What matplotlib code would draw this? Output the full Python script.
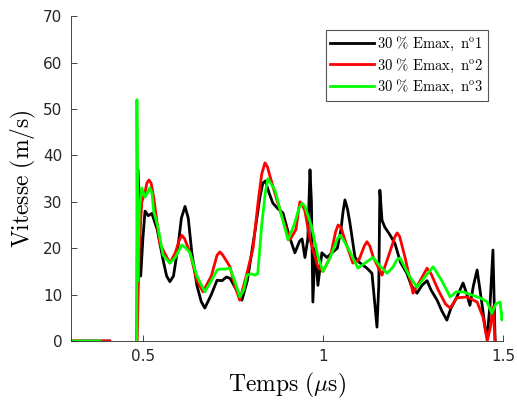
"""Vitesse vs temps, trois essais a 30 % Emax."""
import numpy as np
import matplotlib
matplotlib.use("Agg")
import matplotlib.pyplot as plt

plt.rcParams["mathtext.fontset"] = "cm"

nan = np.nan

# essai n°1 (noir)
t1 = [0.30, 0.408, nan, 0.483, 0.486, 0.490, 0.494, 0.500, 0.506, 0.515, 0.525,
      0.540, 0.556, 0.566, 0.575, 0.585, 0.597, 0.607, 0.617, 0.626, 0.636,
      0.650, 0.662, 0.672, 0.690, 0.706, 0.720, 0.732, 0.742, 0.760, 0.775,
      0.790, 0.810, 0.825, 0.833, 0.840, 0.850, 0.861, 0.875, 0.889, 0.905,
      0.922, 0.935, 0.942, 0.950, 0.958, 0.964, 0.968, 0.972, 0.978, 0.986,
      0.997, 1.011, 1.025, 1.040, 1.050, 1.056, 1.061, 1.068, 1.075, 1.089,
      1.100, 1.122, 1.136, 1.144, 1.150, 1.155, 1.158, 1.164, 1.172, 1.185,
      1.200, 1.215, 1.233, 1.245, 1.261, 1.275, 1.289, 1.300, 1.317, 1.330,
      1.344, 1.355, 1.372, 1.389, 1.400, 1.408, 1.418, 1.428, 1.436, 1.442,
      1.450, 1.456, 1.464, 1.472, 1.478]
v1 = [0, 0, nan, 0, 37, 30, 14, 22, 28, 27, 27.5,
      24, 17.5, 14, 12.8, 14, 20, 26.5, 29, 26.5, 19,
      12, 8.5, 7.1, 10, 13.1, 13, 13.8, 13.5, 11, 8.8,
      13, 23, 31, 34, 34.5, 32, 29.7, 28.5, 27.6, 23,
      19, 21.5, 22, 18, 22, 36.9, 30, 8.4, 20, 12,
      19, 18, 19, 20, 24, 28, 30.4, 28.5, 25.4, 18,
      17, 15.7, 14.6, 8, 3, 12, 32.5, 26, 24.5, 23,
      21, 17, 14.6, 12, 10.3, 12, 13, 11, 8.8, 6.5,
      4.5, 7, 9.5, 12.5, 10, 7.7, 12, 15.3, 11, 7.7,
      3, 1, 8, 19.6, 0]

# essai n°2 (rouge)
t2 = [0.30, 0.408, nan, 0.484, 0.490, 0.497, 0.506, 0.511, 0.517, 0.523, 0.530,
      0.547, 0.560, 0.575, 0.590, 0.600, 0.608, 0.616, 0.631, 0.650, 0.667,
      0.690, 0.706, 0.714, 0.722, 0.742, 0.755, 0.769, 0.789, 0.806, 0.820,
      0.830, 0.839, 0.846, 0.853, 0.872, 0.890, 0.908, 0.925, 0.932, 0.936,
      0.942, 0.950, 0.964, 0.986, 1.000, 1.020, 1.035, 1.042, 1.050, 1.060,
      1.083, 1.100, 1.115, 1.122, 1.130, 1.140, 1.164, 1.185, 1.200, 1.206,
      1.213, 1.228, 1.250, 1.270, 1.289, 1.300, 1.320, 1.340, 1.353, 1.372,
      1.400, 1.428, 1.445, 1.456, 1.465, 1.472, 1.478]
v2 = [0, 0, nan, 0, 20, 30, 32, 34, 34.7, 34, 31,
      21, 19, 16.8, 19, 21.5, 22.8, 22, 19, 13, 10.6,
      14, 18.5, 19.2, 18.5, 16, 12, 8.8, 14.6, 20, 30,
      36, 38.4, 37.5, 35.5, 30.4, 26, 21.8, 24, 28, 30,
      29.5, 28, 21.8, 16, 15, 18, 23.5, 25, 24.5, 22,
      16.8, 17.5, 20.5, 21.4, 20.5, 18, 14.2, 19, 22.5, 23.3,
      22.5, 18, 10.3, 13, 15.7, 14.5, 11, 8, 7.1, 9.3,
      9.5, 8.4, 5, 0, 3, 7.3, 0]

# essai n°3 (vert)
t3 = [0.30, 0.381, nan, 0.483, 0.4835, 0.486, 0.490, 0.497, 0.506, 0.513, 0.519,
      0.525, 0.530, 0.542, 0.556, 0.575, 0.590, 0.608, 0.620, 0.631, 0.650,
      0.672, 0.690, 0.706, 0.714, 0.728, 0.742, 0.755, 0.769, 0.780, 0.789,
      0.800, 0.811, 0.819, 0.830, 0.840, 0.847, 0.855, 0.867, 0.885, 0.903,
      0.920, 0.933, 0.942, 0.950, 0.969, 0.985, 1.000, 1.020, 1.040, 1.047,
      1.055, 1.070, 1.097, 1.120, 1.139, 1.160, 1.178, 1.195, 1.205, 1.214,
      1.240, 1.261, 1.285, 1.306, 1.330, 1.353, 1.370, 1.389, 1.410, 1.436,
      1.455, 1.469, 1.480, 1.492, 1.497, 1.500]
v3 = [0, 0, nan, 0, 52, 13, 28, 33, 31, 32, 33,
      32, 28, 24.5, 18.5, 16.8, 18, 20.7, 20, 19, 14,
      10.6, 13, 15.3, 15.5, 15.5, 15.7, 13, 9.5, 11, 14.2,
      14.5, 14.2, 14.5, 25, 32, 35, 34, 32.5, 27, 21.8,
      25, 28.5, 29.7, 29, 24.5, 18.5, 15, 18, 22, 22.8,
      22, 20, 15.7, 17, 18, 16, 14.6, 16, 17.5, 17.9,
      14, 11.6, 14, 16, 13, 9.5, 10.6, 10.6, 10, 9.3,
      8.5, 6, 8, 8.4, 4.5, 6]

labels = [r"$\mathrm{30\ \%\ Emax,\ n^o1}$",
          r"$\mathrm{30\ \%\ Emax,\ n^o2}$",
          r"$\mathrm{30\ \%\ Emax,\ n^o3}$"]
colors = ["black", "red", "#00ff00"]

axis_col = "#262626"

fig = plt.figure(figsize=(5.17, 4.05), dpi=100)
ax = fig.add_axes([0.137, 0.158, 0.836, 0.802])

for t, v, lab, c in zip([t1, t2, t3], [v1, v2, v3], labels, colors):
    ax.plot(t, v, color=c, lw=2.0, label=lab)

ax.set_xlim(0.3, 1.5)
ax.set_ylim(0, 70)
ax.set_xticks([0.5, 1, 1.5])
ax.set_xticklabels(["0.5", "1", "1.5"])
ax.set_yticks(range(0, 71, 10))

for side in ["top", "right"]:
    ax.spines[side].set_visible(False)
for side in ["left", "bottom"]:
    ax.spines[side].set_color(axis_col)
    ax.spines[side].set_linewidth(0.6)
ax.tick_params(direction="in", length=4, width=0.6, colors=axis_col,
               labelsize=11, pad=6)

ax.set_xlabel(r"$\mathrm{Temps}\ (\mu\mathrm{s})$", fontsize=17, labelpad=5)
ax.set_ylabel(r"$\mathrm{Vitesse\ (m/s)}$", fontsize=17, labelpad=4)

leg = ax.legend(loc="upper right", bbox_to_anchor=(0.965, 0.957), fontsize=10.5,
                handlelength=3.0, handletextpad=0.2, borderpad=0.3,
                labelspacing=0.25, borderaxespad=0, fancybox=False,
                framealpha=1)
leg.get_frame().set_edgecolor("#555555")
leg.get_frame().set_linewidth(0.8)

fig.savefig("out.png", dpi=100)
